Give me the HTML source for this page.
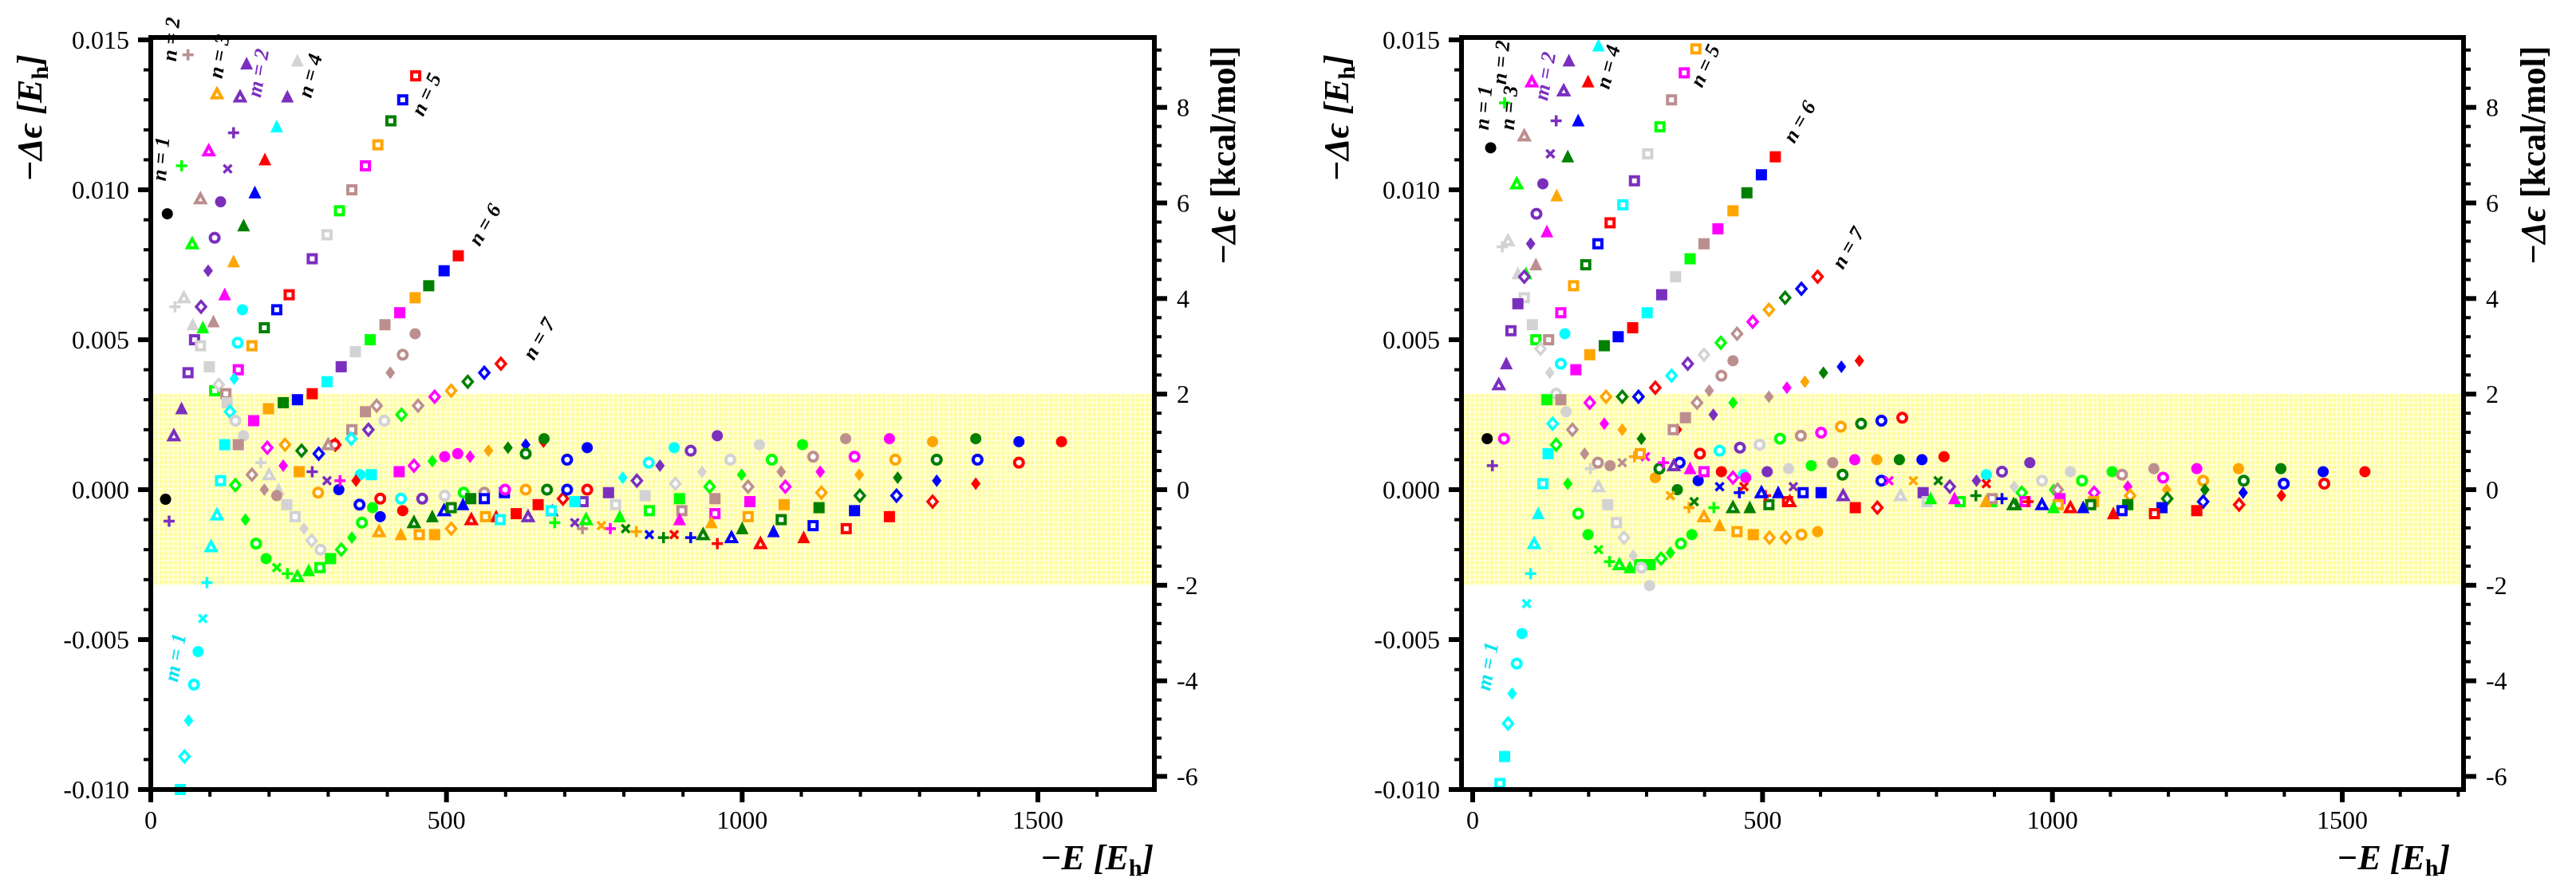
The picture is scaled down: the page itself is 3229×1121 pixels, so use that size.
<!DOCTYPE html>
<html><head><meta charset="utf-8">
<style>
html,body{margin:0;padding:0;background:#fff;}
svg{display:block;}
text{font-family:"Liberation Serif","DejaVu Serif",serif;}
</style></head>
<body>
<svg id="chart" width="3229" height="1121" viewBox="0 0 3229 1121" xmlns="http://www.w3.org/2000/svg">
<defs>
<pattern id="bandpat" width="6" height="6" patternUnits="userSpaceOnUse">
<rect width="6" height="6" fill="#fffca0"/>
<rect x="0" y="0" width="6" height="1.5" fill="#ffffe0"/>
<rect x="0" y="0" width="1.5" height="6" fill="#ffffe0"/>
</pattern>
</defs>
<g id="panels"></g>
</svg>
<script>
const xTicksMajor = [0, 500, 1000, 1500];
const yTicksMajor = [0.015, 0.010, 0.005, 0.000, -0.005, -0.010];
const yTickLabels = ["0.015", "0.010", "0.005", "0.000", "-0.005", "-0.010"];
const kcalTicks = [8, 6, 4, 2, 0, -2, -4, -6];
const kcalBand = [-2, 2];
const kcalPerHartree = 627.5;

const leftPoints = [
[25,-0.00032,'k','o'],[28,0.0092,'k','o'],[31,-0.00105,'p','+'],[52,0.0108,'L','+'],[63,0.0145,'r','+'],[112,0.0132,'o','T'],[151,0.0131,'p','T'],[162,0.0142,'p','t'],[231,0.0131,'p','t'],[248,0.0143,'y','t'],[213,0.0121,'c','t'],[140,0.0119,'p','+'],[130,0.0107,'p','x'],[98,0.0113,'M','T'],[193,0.0110,'R','t'],[176,0.0099,'b','t'],[84,0.0097,'r','T'],[118,0.0096,'p','o'],[157,0.0088,'g','t'],[108,0.0084,'p','O'],[70,0.0082,'L','T'],[140,0.0076,'o','t'],[97,0.0073,'p','d'],[125,0.0065,'M','t'],[56,0.0064,'y','T'],[41,0.0061,'y','+'],[85,0.0061,'p','D'],[106,0.0056,'r','t'],[71,0.0055,'y','t'],[88,0.0054,'L','t'],[155,0.0060,'c','o'],[74,0.0050,'p','S'],[84,0.0048,'y','S'],[147,0.0049,'c','O'],[171,0.0048,'o','S'],[63,0.0039,'p','S'],[99,0.0041,'y','s'],[148,0.0040,'M','S'],[141,0.0037,'c','d'],[52,0.0027,'p','t'],[39,0.0018,'p','T'],[108,0.0033,'L','S'],[115,0.0035,'y','D'],[127,0.0032,'r','S'],[129,0.0029,'y','s'],[134,0.0026,'c','D'],[143,0.0023,'y','O'],[157,0.0018,'y','o'],[125,0.0015,'c','s'],[148,0.0015,'r','s'],[174,0.0023,'M','s'],[118,0.0003,'c','S'],[143,0.00015,'L','D'],[112,-0.00084,'c','T'],[102,-0.0019,'c','T'],[95,-0.0031,'c','+'],[88,-0.0043,'c','x'],[80,-0.0054,'c','o'],[73,-0.0065,'c','O'],[64,-0.0077,'c','d'],[57,-0.0089,'c','D'],[50,-0.0100,'c','s'],
[273,0.0077,'p','S'],[234,0.0065,'R','S'],[213,0.0060,'b','S'],[192,0.0054,'g','S'],[298,0.0085,'y','S'],[319,0.0093,'L','S'],[340,0.0100,'r','S'],[363,0.0108,'M','S'],[384,0.0115,'o','S'],[406,0.0123,'g','S'],[426,0.0130,'b','S'],[448,0.0138,'R','S'],
[224,0.0029,'g','s'],[248,0.0030,'b','s'],[273,0.0032,'R','s'],[199,0.0027,'o','s'],[298,0.0036,'c','s'],[322,0.0041,'p','s'],[346,0.0046,'y','s'],[371,0.0050,'L','s'],[396,0.0055,'r','s'],[421,0.0059,'M','s'],[447,0.0064,'o','s'],[470,0.0068,'g','s'],[496,0.0073,'b','s'],[520,0.0078,'R','s'],
[447,0.0052,'r','o'],[426,0.0045,'r','O'],[405,0.0039,'r','d'],[368,0.0020,'p','D'],[382,0.0028,'r','D'],[395,0.0023,'y','O'],[363,0.0026,'r','s'],[340,0.0020,'r','S'],[339,0.0017,'c','D'],
[424,0.0025,'L','D'],[452,0.0028,'r','D'],[480,0.0031,'M','D'],[508,0.0033,'o','D'],[536,0.0036,'g','D'],[564,0.0039,'b','D'],[592,0.0042,'R','D'],
[197,0.0014,'M','D'],[227,0.0015,'o','D'],[255,0.0013,'g','D'],[284,0.0012,'b','D'],[312,0.0015,'R','D'],[224,0.0008,'M','d'],
[476,0.00095,'L','d'],[540,0.0011,'M','d'],[571,0.0013,'o','d'],[604,0.0014,'g','d'],[634,0.0015,'b','d'],[664,0.0016,'R','d'],
[665,0.0017,'g','o'],[738,0.0014,'b','o'],[958,0.0018,'p','o'],[1102,0.0015,'L','o'],[1175,0.0017,'r','o'],[1249,0.0017,'M','o'],[1322,0.0016,'o','o'],[1395,0.0017,'g','o'],[1468,0.0016,'b','o'],[1540,0.0016,'R','o'],[885,0.0014,'c','o'],[1029,0.0015,'y','o'],
[704,0.0010,'b','O'],[913,0.0013,'p','O'],[980,0.0010,'y','O'],[1050,0.0010,'L','O'],[1120,0.0011,'r','O'],[1190,0.0011,'M','O'],[1259,0.0010,'o','O'],[1329,0.0010,'g','O'],[1398,0.0010,'b','O'],[1468,0.0009,'R','O'],[842,0.0009,'c','O'],[634,0.0012,'g','O'],
[861,0.0008,'p','d'],[932,0.0006,'y','d'],[999,0.0005,'L','d'],[1066,0.0006,'r','d'],[1132,0.0006,'M','d'],[1198,0.0005,'o','d'],[1263,0.0004,'g','d'],[1329,0.0003,'b','d'],[1395,0.0002,'R','d'],[798,0.0004,'c','d'],
[822,0.0003,'p','D'],[887,0.0002,'y','D'],[945,0.0001,'L','D'],[1010,0.0001,'r','D'],[1073,0.0001,'M','D'],[1134,-0.0001,'o','D'],[1199,-0.0002,'g','D'],[1261,-0.0002,'b','D'],[1322,-0.0004,'R','D'],[697,-0.0003,'R','D'],
[774,-0.0001,'p','s'],[836,-0.0002,'y','s'],[894,-0.0003,'L','s'],[954,-0.0003,'r','s'],[1013,-0.0004,'M','s'],[1071,-0.0005,'o','s'],[1130,-0.0006,'g','s'],[1190,-0.0007,'b','s'],[1249,-0.0009,'R','s'],[655,-0.0005,'R','s'],[598,-0.0001,'b','s'],
[731,-0.0004,'p','S'],[786,-0.0005,'y','S'],[843,-0.0007,'L','S'],[898,-0.0007,'r','S'],[954,-0.0008,'M','S'],[1010,-0.0009,'o','S'],[1066,-0.0010,'g','S'],[1120,-0.0012,'b','S'],[1176,-0.0013,'R','S'],
[894,-0.0010,'M','t'],[948,-0.0011,'o','t'],[1000,-0.0013,'g','t'],[1053,-0.0014,'b','t'],[1104,-0.0016,'R','t'],[934,-0.0015,'g','T'],[982,-0.0016,'b','T'],[1031,-0.0018,'R','T'],
[683,-0.0011,'L','+'],[730,-0.0013,'r','+'],[777,-0.0013,'M','+'],[821,-0.0014,'o','+'],[867,-0.0016,'g','+'],[913,-0.0016,'b','+'],[958,-0.0018,'R','+'],[803,-0.0013,'g','x'],[843,-0.0015,'b','x'],[885,-0.0015,'R','x'],[762,-0.0012,'o','x'],[717,-0.0011,'p','x'],
[388,-0.0009,'b','o'],[426,-0.0007,'R','o'],[353,-0.0005,'b','O'],[388,-0.0003,'R','O'],[423,-0.0003,'c','O'],[459,-0.0003,'p','O'],[497,-0.0002,'y','O'],[529,-0.0001,'L','O'],[564,-0.0001,'r','O'],[599,0.0,'M','O'],[634,0.0,'o','O'],[670,0.0,'g','O'],[704,0.0,'b','O'],[738,0.0,'R','O'],
[318,0.0,'b','o'],[354,0.0005,'c','o'],[420,0.0006,'M','s'],[497,0.0011,'M','o'],[519,0.0012,'M','o'],
[386,-0.0014,'o','T'],[423,-0.0015,'o','t'],[445,-0.0011,'g','T'],[476,-0.0009,'g','t'],[496,-0.0007,'b','T'],[528,-0.0005,'b','t'],[542,-0.0010,'R','T'],[584,-0.0009,'R','t'],[638,-0.0009,'p','T'],[679,-0.0007,'p','t'],[736,-0.0010,'L','T'],[793,-0.0009,'L','t'],
[454,-0.0015,'o','S'],[480,-0.0015,'o','s'],[508,-0.0013,'o','D'],[566,-0.0009,'o','S'],[541,-0.0003,'g','s'],[508,-0.0006,'g','S'],[564,-0.0003,'b','S'],[591,-0.0010,'c','S'],[618,-0.0008,'R','s'],[677,-0.0007,'c','S'],[717,-0.0004,'c','s'],
[178,-0.0018,'L','O'],[195,-0.0023,'L','o'],[213,-0.0026,'L','x'],[231,-0.0028,'L','+'],[248,-0.0029,'L','T'],[267,-0.0027,'L','t'],[286,-0.0026,'L','S'],[304,-0.0023,'L','s'],[322,-0.0020,'L','D'],[340,-0.0016,'L','d'],[357,-0.0011,'L','O'],[375,-0.0006,'L','o'],[160,-0.0010,'L','d'],
[287,-0.0020,'y','O'],[272,-0.0017,'y','D'],[259,-0.0013,'y','d'],[244,-0.0009,'y','S'],[230,-0.0005,'y','s'],[216,0.0,'y','t'],[200,0.0005,'y','T'],[186,0.0009,'y','+'],
[192,0.0,'r','d'],[213,-0.0002,'r','o'],[171,0.0005,'r','D'],[283,-0.0001,'o','O'],
[251,0.0006,'o','s'],[273,0.0006,'p','+'],[298,0.0003,'p','x'],[320,0.0003,'M','+'],[347,0.0003,'R','d'],[373,0.0005,'c','s'],[445,0.0008,'M','D'],[311,0.0015,'R','O'],[300,0.0015,'r','T']
];

const rightPoints = [
[25,0.0017,'k','o'],[34,0.0008,'p','+'],[31,0.0114,'k','o'],[55,0.0129,'L','+'],[45,0.0035,'p','T'],[58,0.0042,'p','t'],[51,0.0081,'y','+'],[61,0.0083,'y','T'],[78,0.0072,'y','t'],[92,0.0072,'L','t'],[89,0.0118,'r','T'],[76,0.0102,'L','T'],[102,0.0136,'M','T'],[157,0.0133,'p','T'],[166,0.0143,'p','t'],[199,0.0136,'R','t'],[217,0.0148,'c','t'],[182,0.0123,'b','t'],[144,0.0123,'p','+'],[134,0.0112,'p','x'],[164,0.0111,'g','t'],[121,0.0102,'p','o'],[110,0.0092,'p','O'],[145,0.0098,'o','t'],[128,0.0086,'M','t'],[100,0.0082,'p','d'],[109,0.0075,'r','t'],[89,0.0071,'p','D'],[89,0.0064,'y','S'],[78,0.0062,'p','s'],[66,0.0053,'p','S'],[103,0.0055,'y','s'],[109,0.0050,'L','S'],[131,0.0050,'r','S'],[117,0.0047,'y','D'],[159,0.0052,'c','o'],[152,0.0042,'c','O'],[178,0.0040,'M','s'],[152,0.0059,'M','S'],[133,0.0039,'y','d'],[144,0.0032,'y','O'],[152,0.0030,'r','s'],[128,0.0030,'L','s'],[138,0.0022,'c','D'],[161,0.0026,'y','o'],[144,0.0015,'L','D'],[130,0.0012,'c','s'],[121,0.0002,'c','S'],[113,-0.0008,'c','t'],[106,-0.0018,'c','T'],[100,-0.0028,'c','+'],[93,-0.0038,'c','x'],[85,-0.0048,'c','o'],[76,-0.0058,'c','O'],[68,-0.0068,'c','d'],[61,-0.0078,'c','D'],[55,-0.0089,'c','s'],[47,-0.0098,'c','S'],[54,0.0017,'M','O'],
[279,0.0103,'p','S'],[237,0.0089,'R','S'],[216,0.0082,'b','S'],[195,0.0075,'g','S'],[174,0.0068,'o','S'],[259,0.0095,'c','S'],[302,0.0112,'y','S'],[323,0.0121,'L','S'],[343,0.0130,'r','S'],[365,0.0139,'M','S'],[385,0.0147,'o','S'],
[202,0.0045,'o','s'],[227,0.0048,'g','s'],[251,0.0051,'b','s'],[276,0.0054,'R','s'],[301,0.0059,'c','s'],[326,0.0065,'p','s'],[350,0.0071,'y','s'],[375,0.0077,'L','s'],[399,0.0082,'r','s'],[423,0.0087,'M','s'],[449,0.0093,'o','s'],[473,0.0099,'g','s'],[498,0.0105,'b','s'],[522,0.0111,'R','s'],
[202,0.0029,'M','D'],[230,0.0031,'o','D'],[258,0.0031,'g','D'],[286,0.0031,'b','D'],[315,0.0034,'R','D'],[343,0.0038,'c','D'],[371,0.0042,'p','D'],[399,0.0045,'y','D'],[428,0.0049,'L','D'],[456,0.0052,'r','D'],[483,0.0056,'M','D'],[511,0.0060,'o','D'],[539,0.0064,'g','D'],[567,0.0067,'b','D'],[595,0.0071,'R','D'],
[227,0.0022,'M','d'],[258,0.0020,'o','d'],[291,0.0017,'g','d'],[353,0.0020,'R','d'],[415,0.0025,'p','d'],[449,0.0029,'L','d'],[511,0.0031,'r','d'],[542,0.0034,'M','d'],[573,0.0036,'o','d'],[605,0.0039,'g','d'],[636,0.0041,'b','d'],[667,0.0043,'R','d'],
[449,0.0043,'r','o'],[429,0.0038,'r','O'],[408,0.0033,'r','d'],[387,0.0029,'r','D'],[367,0.0024,'r','s'],[346,0.0020,'r','S'],
[357,0.0009,'b','O'],[392,0.0012,'R','O'],[426,0.0013,'c','O'],[461,0.0014,'p','O'],[495,0.0015,'y','O'],[530,0.0017,'L','O'],[566,0.0018,'r','O'],[601,0.0019,'M','O'],[635,0.0021,'o','O'],[670,0.0022,'g','O'],[705,0.0023,'b','O'],[741,0.0024,'R','O'],
[315,0.0004,'o','o'],[353,0.0,'g','o'],[389,0.0003,'b','o'],[429,0.0006,'R','o'],[467,0.0005,'c','o'],[508,0.0006,'p','o'],[545,0.0007,'y','o'],[584,0.0008,'L','o'],[621,0.0009,'r','o'],[659,0.0010,'M','o'],[697,0.0010,'o','o'],[736,0.0010,'g','o'],[775,0.0010,'b','o'],[813,0.0011,'R','o'],[886,0.0005,'c','o'],[961,0.0009,'p','o'],[1031,0.0006,'y','o'],[1103,0.0006,'L','o'],[1175,0.0007,'r','o'],[1249,0.0007,'M','o'],[1321,0.0007,'o','o'],[1394,0.0007,'g','o'],[1467,0.0006,'b','o'],[1539,0.0006,'R','o'],
[913,0.0006,'p','O'],[982,0.0003,'y','O'],[1051,0.0003,'L','O'],[1120,0.0005,'r','O'],[1191,0.0004,'M','O'],[1260,0.0003,'o','O'],[1330,0.0003,'g','O'],[1399,0.0002,'b','O'],[1469,0.0002,'R','O'],[638,0.0005,'g','O'],[705,0.0003,'b','O'],
[869,0.0003,'p','d'],[934,0.0001,'y','d'],[1002,0.0,'L','d'],[1130,0.0001,'M','d'],[1197,0.0,'o','d'],[1263,0.0,'g','d'],[1329,-0.0001,'b','d'],[1395,-0.0002,'R','d'],
[823,0.0001,'p','D'],[947,-0.0001,'L','D'],[1009,0.0,'r','D'],[1072,-0.0001,'M','D'],[1134,-0.0002,'o','D'],[1198,-0.0003,'g','D'],[1260,-0.0004,'b','D'],[1322,-0.0005,'R','D'],[698,-0.0006,'R','D'],
[777,-0.0001,'p','s'],[895,-0.0004,'L','s'],[1013,-0.0003,'M','s'],[1071,-0.0004,'o','s'],[1130,-0.0005,'g','s'],[1189,-0.0006,'b','s'],[1249,-0.0007,'R','s'],[1120,-0.0007,'b','S'],[1176,-0.0008,'R','S'],[1066,-0.0005,'g','S'],[1010,-0.0005,'o','S'],[953,-0.0004,'M','S'],[896,-0.0003,'r','S'],[841,-0.0004,'L','S'],[784,-0.0004,'y','S'],[660,-0.0006,'R','s'],[601,-0.0001,'b','s'],[543,-0.0004,'R','S'],[570,-0.0001,'b','S'],[511,-0.0005,'g','S'],
[831,-0.0003,'M','t'],[885,-0.0004,'o','t'],[937,-0.0005,'g','t'],[1053,-0.0006,'b','t'],[1105,-0.0008,'R','t'],[933,-0.0005,'g','T'],[982,-0.0005,'b','T'],[1031,-0.0006,'R','T'],[1002,-0.0006,'L','t'],[790,-0.0003,'L','t'],[738,-0.0002,'y','T'],
[373,-0.0006,'o','+'],[416,-0.0006,'L','+'],[460,-0.0001,'b','+'],[505,-0.0002,'R','+'],[868,-0.0002,'g','+'],[913,-0.0003,'b','+'],[958,-0.0004,'R','+'],[341,-0.0002,'o','x'],[382,-0.0004,'g','x'],[426,0.0001,'b','x'],[468,0.0001,'R','x'],[553,0.0001,'p','x'],[718,0.0003,'M','x'],[760,0.0003,'o','x'],[803,0.0003,'g','x'],[886,0.0002,'R','x'],
[399,-0.0009,'o','T'],[426,-0.0012,'o','t'],[449,-0.0006,'g','T'],[478,-0.0006,'g','t'],[498,-0.0001,'b','T'],[527,-0.0001,'b','t'],[547,-0.0004,'R','T'],[639,-0.0002,'p','T'],
[456,-0.0014,'o','S'],[484,-0.0015,'o','s'],[512,-0.0016,'o','D'],[540,-0.0016,'o','D'],[567,-0.0015,'o','O'],[595,-0.0014,'o','o'],
[182,-0.0008,'L','O'],[199,-0.0015,'L','o'],[217,-0.0020,'L','x'],[236,-0.0024,'L','+'],[253,-0.0025,'L','T'],[271,-0.0026,'L','t'],[288,-0.0025,'L','S'],[306,-0.0025,'L','s'],[325,-0.0023,'L','D'],[341,-0.0021,'L','d'],[359,-0.0018,'L','O'],[378,-0.0015,'L','o'],[164,0.0002,'L','d'],
[217,0.0001,'y','T'],[233,-0.0005,'y','s'],[248,-0.0011,'y','S'],[261,-0.0016,'y','D'],[277,-0.0022,'y','d'],[291,-0.0026,'y','O'],[305,-0.0032,'y','o'],[203,0.0007,'y','+'],
[172,0.0020,'r','D'],[193,0.0012,'r','d'],[216,0.0009,'r','O'],[237,0.0008,'r','o'],[258,0.0009,'r','x'],[279,0.0011,'o','+'],[298,0.0011,'M','x'],[289,0.0012,'o','S'],[322,0.0007,'g','O'],[329,0.0009,'M','+'],[347,0.0008,'p','T'],[375,0.0007,'M','t'],[399,0.0006,'M','S'],[449,0.0004,'M','D'],[471,0.0004,'M','o']
];

const leftLabels = [["n = 1",210,200,-85,"#000"],["n = 2",223,50,-85,"#000"],["n = 3",283,72,-80,"#000"],["m = 2",332,93,-80,"#7b2fbe"],["n = 4",397,97,-75,"#000"],["n = 5",542,122,-65,"#000"],["n = 6",615,286,-60,"#000"],["n = 7",683,429,-60,"#000"],["m = 1",228,826,-80,"#00e5ee"]];
const rightLabels = [["n = 1",1868,136,-85,"#000"],["n = 2",1890,79,-85,"#000"],["n = 3",1900,136,-85,"#000"],["m = 2",1945,97,-80,"#7b2fbe"],["n = 4",2024,86,-75,"#000"],["n = 5",2145,86,-65,"#000"],["n = 6",2263,157,-60,"#000"],["n = 7",2324,315,-60,"#000"],["m = 1",1873,837,-80,"#00e5ee"]];

const COLORS = {k:'#000000',p:'#7b2fbe',L:'#00ff00',g:'#008000',c:'#00ffff',M:'#ff00ff',o:'#ffa500',r:'#bc8f8f',y:'#d3d3d3',R:'#ff0000',b:'#0000ff'};
const NS = 'http://www.w3.org/2000/svg';
const root = document.getElementById('panels');

function mk(tag, attrs, parent){
  const e = document.createElementNS(NS, tag);
  for (const k in attrs) e.setAttribute(k, attrs[k]);
  parent.appendChild(e);
  return e;
}

function drawPanel(cfg, points, labels, side){
  const g = mk('g', {}, root);
  
  
  const X0 = cfg.x0, X1 = cfg.x1, T = 47, B = 990;
  const sx = E => cfg.xZero + E * cfg.pxPerE;
  const sy = d => 614 - d * 37600;
  const sk = k => sy(k / kcalPerHartree);

  const band = mk('rect', {x:X0, y:sk(kcalBand[1]), width:X1-X0, height:sk(kcalBand[0])-sk(kcalBand[1]), fill:'url(#bandpat)'}, g);
  
  

  const mg = mk('g', {}, g);
  
  
  points.forEach(p => {
    const cx = sx(p[0]), cy = sy(p[1]), col = COLORS[p[2]], m = p[3];
    let el;
    if (m === 'o') el = mk('circle', {cx, cy, r:7, fill:col}, mg);
    else if (m === 'O') el = mk('circle', {cx, cy, r:5.5, fill:'#fff', stroke:col, 'stroke-width':4}, mg);
    else if (m === 's') el = mk('rect', {x:cx-7, y:cy-7, width:14, height:14, fill:col}, mg);
    else if (m === 'S') el = mk('rect', {x:cx-5, y:cy-5, width:10, height:10, fill:'#fff', stroke:col, 'stroke-width':4}, mg);
    else if (m === 't') el = mk('polygon', {points:`${cx},${cy-9} ${cx+8},${cy+7} ${cx-8},${cy+7}`, fill:col}, mg);
    else if (m === 'T') el = mk('polygon', {points:`${cx},${cy-6} ${cx+6},${cy+5} ${cx-6},${cy+5}`, fill:'#fff', stroke:col, 'stroke-width':4}, mg);
    else if (m === 'd') el = mk('polygon', {points:`${cx},${cy-8} ${cx+6},${cy} ${cx},${cy+8} ${cx-6},${cy}`, fill:col}, mg);
    else if (m === 'D') el = mk('polygon', {points:`${cx},${cy-7} ${cx+6},${cy} ${cx},${cy+7} ${cx-6},${cy}`, fill:'#fff', stroke:col, 'stroke-width':3.5}, mg);
    else if (m === '+') el = mk('path', {d:`M${cx-7},${cy}H${cx+7}M${cx},${cy-7}V${cy+7}`, stroke:col, 'stroke-width':3.5}, mg);
    else el = mk('path', {d:`M${cx-5},${cy-5}L${cx+5},${cy+5}M${cx-5},${cy+5}L${cx+5},${cy-5}`, stroke:col, 'stroke-width':3.5}, mg);
    
    
  });

  const fr = mk('rect', {x:X0, y:T, width:X1-X0, height:B-T, fill:'none', stroke:'#000', 'stroke-width':6}, g);
  
  

  const xt = mk('g', {}, g);
  
  
  for (let v = 0; sx(v) <= X1; v += 100) {
    const major = xTicksMajor.includes(v);
    mk('line', {x1:sx(v), x2:sx(v), y1:B, y2:B + (major ? 16 : 9), stroke:'#000', 'stroke-width':major ? 6 : 4}, xt);
  }
  xTicksMajor.forEach(v => {
    const t = mk('text', {x:sx(v), y:1039, 'font-size':32, 'text-anchor':'middle'}, xt);
    t.textContent = String(v);
    
    
  });

  const yt = mk('g', {}, g);
  
  
  for (let i = -10; i <= 15; i++) {
    const major = (i % 5 === 0);
    const y = sy(i / 1000);
    mk('line', {x1:X0 - (major ? 16 : 9), x2:X0, y1:y, y2:y, stroke:'#000', 'stroke-width':major ? 6 : 4}, yt);
  }
  yTicksMajor.forEach((v, i) => {
    const t = mk('text', {x:X0 - 27, y:sy(v) + 11, 'font-size':32, 'text-anchor':'end'}, yt);
    t.textContent = yTickLabels[i];
    
    
  });

  const kt = mk('g', {}, g);
  
  
  for (let i = -16; i <= 24; i++) {
    const k = i * 0.4;
    const y = sk(k);
    if (y < T || y > B) continue;
    const major = (i % 5 === 0);
    mk('line', {x1:X1, x2:X1 + (major ? 16 : 9), y1:y, y2:y, stroke:'#000', 'stroke-width':major ? 6 : 4}, kt);
  }
  kcalTicks.forEach(v => {
    const t = mk('text', {x:X1 + 28, y:sk(v) + 11, 'font-size':32}, kt);
    t.textContent = String(v);
    
    
  });

  const yl = mk('text', {x:0, y:0, 'font-size':44, 'font-weight':'bold', 'font-style':'italic', 'text-anchor':'middle', transform:`translate(${cfg.yTitleX},148) rotate(-90)`}, g);
  yl.innerHTML = '−Δϵ [<tspan>E</tspan><tspan font-size="30" font-style="normal" dy="8">h</tspan><tspan dy="-8">]</tspan>';
  
  

  const kl = mk('text', {x:0, y:0, 'font-size':44, 'font-weight':'bold', 'text-anchor':'middle', transform:`translate(${cfg.kTitleX},195) rotate(-90)`}, g);
  kl.innerHTML = '<tspan font-style="italic">−Δϵ</tspan> [kcal/mol]';
  
  

  const xl = mk('text', {x:cfg.xTitleX, y:1090, 'font-size':44, 'font-weight':'bold', 'font-style':'italic', 'text-anchor':'middle'}, g);
  xl.innerHTML = '−E [E<tspan font-size="30" font-style="normal" dy="8">h</tspan><tspan dy="-8">]</tspan>';
  
  

  labels.forEach(l => {
    const t = mk('text', {x:0, y:0, 'font-size':26, 'font-style':'italic', 'font-weight':'bold', fill:l[4], 'text-anchor':'middle', transform:`translate(${l[1]},${l[2]}) rotate(${l[3]})`}, g);
    t.textContent = l[0];
    
    
  });
}

drawPanel({x0:189, x1:1447, xZero:189, pxPerE:0.7413, yTitleX:52, kTitleX:1548, xTitleX:1375}, leftPoints, leftLabels, 'left');
drawPanel({x0:1832, x1:3088, xZero:1846, pxPerE:0.7267, yTitleX:1690, kTitleX:3190, xTitleX:3000}, rightPoints, rightLabels, 'right');
</script>
</body></html>
